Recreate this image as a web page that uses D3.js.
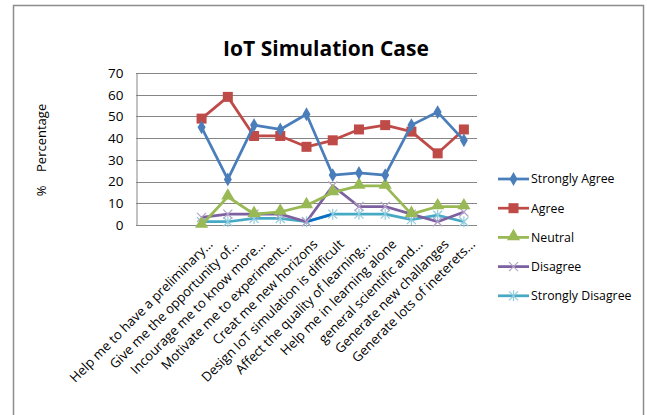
<!DOCTYPE html>
<html>
<head>
<meta charset="utf-8">
<script src="https://cdn.jsdelivr.net/npm/d3@7"></script>
<style>
  body { margin: 0; background: #fff; }
  text { font-family: "Open Sans", "Liberation Sans", sans-serif; fill: #000; }
</style>
</head>
<body>
<div id="chart"></div>
<script>
// categories (two blank slots come first in the source sheet)
var categories = [
  "Help me to have a preliminary...",
  "Give me the opportunity of...",
  "Incourage me to know more...",
  "Motivate me to experiment...",
  "Creat me new horizons",
  "Design IoT simulation is difficult",
  "Affect the quality of learning...",
  "Help me in learning alone",
  "general scientific and...",
  "Generate new challanges",
  "Generate lots of ineterets..."
];
var blankSlots = ["blank1", "blank2"];

var stronglyAgree    = [45, 21, 46, 44, 51, 23, 24, 23, 46, 52, 39];
var agree            = [49, 59, 41, 41, 36, 39, 44, 46, 43, 33, 44];
var neutral          = [0, 13, 5, 6, 9, 15, 18, 18, 5, 8.5, 8.5];
var disagree         = [3.5, 5, 5, 5, 1.5, 18, 8.5, 8.5, 5, 1.5, 6];
var stronglyDisagree = [1.5, 1.5, 3, 3, 1.5, 5, 5, 5, 2.5, 4.5, 1.5];

var yTicks = [0, 10, 20, 30, 40, 50, 60, 70];

var series = [
  { name: "Strongly Agree",    values: stronglyAgree,    color: "#4A7EBB", marker: "diamond" },
  { name: "Agree",             values: agree,            color: "#BE4B48", marker: "square" },
  { name: "Neutral",           values: neutral,          color: "#98B954", marker: "triangle" },
  { name: "Disagree",          values: disagree,         color: "#7D60A0", marker: "x" },
  { name: "Strongly Disagree", values: stronglyDisagree, color: "#46AAC5", marker: "star" }
];

var width = 647, height = 415;
var svg = d3.select("#chart").append("svg")
    .attr("width", width)
    .attr("height", height);

svg.append("rect").attr("width", width).attr("height", height).attr("fill", "#fff");
// chart frame
svg.append("rect")
    .attr("x", 13.5).attr("y", 5.5)
    .attr("width", 630).attr("height", 430)
    .attr("fill", "none").attr("stroke", "#8c8c8c").attr("stroke-width", 1.5);

var plot = { left: 136, right: 477, top: 73, bottom: 225 };

var x = d3.scaleBand()
    .domain(blankSlots.concat(categories))
    .range([plot.left, plot.right])
    .padding(0);
var cx = function(c) { return x(c) + x.bandwidth() / 2; };

var y = d3.scaleLinear().domain([0, 70]).range([plot.bottom, plot.top]);

// title
svg.append("text")
    .attr("x", 326).attr("y", 56)
    .attr("text-anchor", "middle")
    .style("font-size", "21px").style("font-weight", "bold")
    .text("IoT Simulation Case");

// gridlines
svg.append("g").selectAll("line").data(yTicks).enter().append("line")
    .attr("x1", plot.left).attr("x2", plot.right)
    .attr("y1", function(d) { return Math.round(y(d)) + 0.5; })
    .attr("y2", function(d) { return Math.round(y(d)) + 0.5; })
    .attr("stroke", "#868686").attr("stroke-width", 1);

// y axis
var yAxis = svg.append("g")
    .attr("transform", "translate(" + (plot.left + 0.5) + ",0)")
    .call(d3.axisLeft(y).tickValues(yTicks).tickSize(0).tickPadding(13));
yAxis.select(".domain").attr("stroke", "#868686");
yAxis.selectAll("text").style("font-size", "13.5px")
    .style("font-family", "'Open Sans', sans-serif").attr("fill", "#000");

svg.append("text")
    .attr("transform", "translate(46,150) rotate(-90)")
    .attr("text-anchor", "middle")
    .style("font-size", "13px")
    .style("white-space", "pre")
    .text("%    Percentage");

// category labels
svg.append("g").selectAll("text").data(categories).enter().append("text")
    .attr("transform", function(d) { return "translate(" + (cx(d) + 5) + ",238) rotate(-45)"; })
    .attr("text-anchor", "end")
    .attr("dy", "0.75em")
    .style("font-size", "13.2px")
    .text(function(d) { return d; });

// markers
function drawMarker(g, type, color, px, py) {
  if (type === "diamond") {
    g.append("path").attr("d", d3.symbol().type(d3.symbolDiamond).size(55)())
      .attr("transform", "translate(" + px + "," + py + ")").attr("fill", color);
  } else if (type === "square") {
    g.append("rect").attr("x", px - 5).attr("y", py - 5).attr("width", 10).attr("height", 10)
      .attr("fill", color);
  } else if (type === "triangle") {
    g.append("path").attr("d", d3.symbol().type(d3.symbolTriangle).size(75)())
      .attr("transform", "translate(" + px + "," + (py - 1) + ")").attr("fill", color);
  } else if (type === "x") {
    g.append("path").attr("d", "M-4.5,-4.5L4.5,4.5M-4.5,4.5L4.5,-4.5")
      .attr("transform", "translate(" + px + "," + py + ")")
      .attr("stroke", "#B3A2C7").attr("stroke-width", 1.2).attr("fill", "none");
  } else if (type === "star") {
    g.append("path").attr("d", "M-4.5,-4.5L4.5,4.5M-4.5,4.5L4.5,-4.5M0,-5.5L0,5.5")
      .attr("transform", "translate(" + px + "," + py + ")")
      .attr("stroke", "#93CDDD").attr("stroke-width", 1.2).attr("fill", "none");
  }
}

var line = d3.line()
    .x(function(d, i) { return cx(categories[i]); })
    .y(function(d) { return y(d); });

// draw from back to front so Strongly Agree sits on top like the original
series.slice().reverse().forEach(function(s) {
  var g = svg.append("g");
  g.append("path")
    .attr("d", line(s.values))
    .attr("fill", "none")
    .attr("stroke", s.color)
    .attr("stroke-width", 2.75)
    .attr("stroke-linejoin", "round");
  if (s.name === "Strongly Disagree") {
    // one segment was formatted darker in the source
    g.append("path")
      .attr("d", line.x(function(d, i) { return cx(categories[i + 4]); })(s.values.slice(4, 6)))
      .attr("fill", "none").attr("stroke", "#0A6EC4").attr("stroke-width", 2.75);
    line.x(function(d, i) { return cx(categories[i]); });
  }
  s.values.forEach(function(v, i) {
    drawMarker(g, s.marker, s.color, cx(categories[i]), y(v));
  });
});

// legend
var legend = svg.append("g");
series.forEach(function(s, i) {
  var ly = 179 + i * 29.2;
  legend.append("line")
    .attr("x1", 498).attr("x2", 529).attr("y1", ly).attr("y2", ly)
    .attr("stroke", s.color).attr("stroke-width", 2.75);
  drawMarker(legend, s.marker, s.color, 513.5, ly);
  legend.append("text")
    .attr("x", 531).attr("y", ly)
    .attr("dy", "0.35em")
    .style("font-size", "12.3px")
    .text(s.name);
});
</script>
</body>
</html>
